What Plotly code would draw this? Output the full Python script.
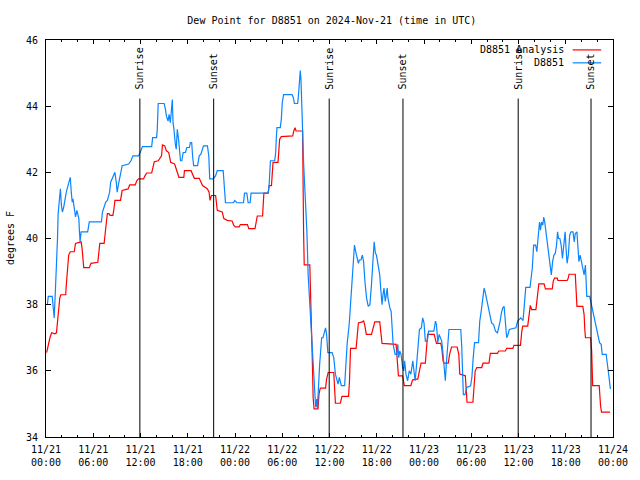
import pandas as pd
import plotly.graph_objects as go

# ---- data (hours after 2024-11-21 00:00 UTC, dew point in degrees F) ----
start = pd.Timestamp("2024-11-21 00:00")

obs_hours = [0.17, 0.29, 0.79, 0.92, 1.04, 1.17, 1.33, 1.46, 1.54, 1.67, 1.83, 1.96, 2.08, 2.25, 2.42, 2.58,
             2.79, 2.92, 3.08, 3.21, 3.33, 3.42, 3.58, 3.75, 3.92, 4.08, 4.17, 4.25, 4.33, 4.46, 5.29, 5.5,
             7.04, 7.17, 7.58, 7.79, 8.08, 8.21, 8.42, 8.63, 8.75, 8.92, 9.04, 9.25, 9.46, 9.67, 10.5, 10.79,
             11.04, 11.75, 11.96, 12.25, 13.42, 13.54, 14.04, 14.13, 14.25, 15.0, 15.17, 15.29, 15.5, 15.63,
             15.79, 15.92, 16.04, 16.13, 16.25, 16.42, 16.54, 16.67, 16.83, 17.08, 17.25, 17.42, 17.71, 17.88,
             18.21, 18.33, 18.5, 18.63, 18.75, 19.25, 19.46, 19.67, 19.88, 20.0, 20.5, 20.67, 20.79, 21.25,
             21.54, 21.75, 22.5, 22.67, 22.79, 23.83, 23.96, 24.25, 25.08, 25.21, 25.5, 25.67, 25.92, 26.04,
             28.21, 28.33, 28.5, 29.04, 29.17, 29.25, 29.33, 29.75, 29.88, 30.0, 30.17, 31.25, 31.42, 31.54,
             31.96, 32.08, 32.17, 32.29, 32.38, 32.5, 32.58, 32.71, 32.83, 33.0, 33.13, 33.29, 33.42, 33.63,
             33.75, 33.92, 34.04, 34.17, 34.25, 34.38, 34.46, 34.58, 34.75, 34.88, 35.0, 35.17, 35.29, 35.42,
             35.5, 35.63, 35.79, 36.33, 36.54, 36.75, 36.96, 37.08, 37.25, 37.38, 37.5, 37.92, 38.08, 38.25,
             38.5, 38.67, 38.83, 39.0, 39.17, 39.33, 39.5, 39.67, 39.79, 40.0, 40.17, 40.33, 40.5, 40.71,
             40.92, 41.13, 41.33, 41.5, 41.67, 41.83, 41.96, 42.17, 42.38, 42.5, 42.67, 42.79, 42.92, 43.08,
             43.21, 43.33, 43.42, 43.54, 43.67, 43.83, 43.96, 44.08, 44.33, 44.54, 44.67, 44.79, 44.92, 45.08,
             45.29, 45.42, 45.54, 45.71, 45.92, 46.13, 46.33, 46.58, 46.75, 46.88, 47.08, 47.25, 47.42, 47.67,
             47.83, 48.0, 48.17, 48.42, 48.58, 49.25, 49.46, 49.58, 49.75, 49.92, 50.08, 50.25, 50.42, 50.58,
             50.71, 50.83, 51.0, 51.17, 52.67, 52.79, 52.92, 53.0, 53.21, 53.42, 53.92, 54.08, 54.25, 54.42,
             54.92, 55.08, 55.29, 55.5, 55.63, 55.75, 55.92, 56.13, 56.33, 56.58, 56.83, 57.08, 57.33, 57.5,
             57.67, 57.83, 58.0, 58.17, 58.33, 58.5, 58.67, 58.83, 59.67, 59.88, 60.08, 60.29, 60.58, 60.71,
             60.92, 61.46, 61.58, 61.75, 61.92, 62.17, 62.33, 62.42, 62.5, 62.67, 62.79, 62.92, 63.08, 63.21,
             63.33, 63.5, 63.67, 63.83, 64.0, 64.17, 64.33, 64.5, 64.67, 64.83, 64.96, 65.08, 65.25, 65.42,
             65.58, 65.71, 65.92, 66.04, 66.17, 66.33, 66.5, 66.67, 66.92, 67.08, 67.21, 67.42, 67.5, 67.67,
             67.83, 68.0, 68.17, 68.33, 68.5, 68.67, 69.04, 69.25, 69.46, 69.67, 69.88, 70.08, 70.29, 70.5,
             70.63, 71.13, 71.33, 71.5, 71.67]
obs_values = [38.0, 38.25, 38.25, 37.8, 37.6, 38.3, 39.05, 40.0, 40.75, 41.25, 41.5, 41.0, 40.8, 40.95, 41.2, 41.4,
              41.6, 41.75, 41.85, 41.4, 41.1, 41.2, 40.9, 40.65, 40.85, 40.7, 40.6, 40.2, 39.9, 40.2, 40.2, 40.5,
              40.5, 40.8, 41.1, 41.15, 41.4, 41.7, 41.8, 41.9, 42.0, 41.7, 41.4, 41.7, 42.0, 42.2, 42.25, 42.35,
              42.5, 42.5, 42.6, 42.78, 42.78, 43.05, 43.05, 43.3, 44.08, 44.08, 43.9, 43.7, 43.55, 43.75,
              43.5, 44.0, 44.2, 43.5, 43.3, 42.85, 42.7, 43.3, 43.0, 42.35, 42.35, 42.6, 42.6, 42.75,
              42.75, 42.9, 42.9, 42.45, 42.2, 42.2, 42.5, 42.55, 42.75, 42.8, 42.8, 42.5, 41.8, 41.8,
              41.9, 42.05, 42.05, 41.6, 41.08, 41.08, 41.15, 41.08, 41.08, 41.37, 41.37, 41.08, 41.08, 41.37,
              41.37, 41.6, 42.35, 42.35, 42.6, 43.05, 43.35, 43.35, 43.6, 44.1, 44.35, 44.35, 44.25, 44.08,
              44.08, 44.4, 44.8, 45.08, 44.8, 44.1, 43.3, 42.3, 41.7, 40.9, 40.2, 38.9, 38.3, 37.7,
              37.0, 36.2, 35.6, 35.2, 34.9, 35.15, 34.85, 35.6, 36.2, 36.6, 37.0, 37.0, 37.1, 37.2,
              37.3, 37.1, 36.55, 36.55, 36.4, 35.9, 35.7, 35.6, 35.8, 35.6, 35.55, 35.55, 36.3, 36.85,
              37.4, 38.1, 38.6, 39.3, 39.8, 39.6, 39.4, 39.25, 39.35, 39.35, 39.5, 39.3, 38.7, 38.2,
              37.95, 38.0, 38.6, 39.4, 39.9, 39.55, 39.5, 39.2, 38.9, 38.5, 38.0, 38.3, 38.5, 38.1,
              38.3, 38.5, 38.2, 38.0, 37.9, 37.8, 37.4, 36.8, 36.5, 36.5, 36.8, 36.4, 36.6, 36.5,
              36.1, 36.0, 36.3, 35.9, 35.7, 36.0, 35.9, 36.3, 35.95, 35.7, 36.25, 36.9, 37.25, 37.3,
              37.6, 37.45, 36.9, 36.9, 37.2, 37.2, 37.5, 37.4, 36.85, 37.1, 37.0, 36.9, 36.5, 35.9,
              35.7, 36.2, 36.9, 37.25, 37.25, 36.75, 35.8, 35.28, 35.28, 35.5, 35.55, 35.8, 36.4, 36.85,
              36.85, 37.5, 37.85, 38.2, 38.5, 38.4, 38.2, 38.0, 37.7, 37.45, 37.4, 37.2, 37.15, 37.3,
              37.5, 37.75, 37.9, 37.95, 37.45, 37.0, 37.1, 37.25, 37.3, 37.5, 37.55, 37.6, 37.52, 37.9,
              38.52, 38.52, 38.75, 39.1, 39.8, 39.8, 39.6, 39.8, 40.1, 40.5, 40.25, 40.5, 40.4, 40.65,
              40.5, 40.2, 39.9, 39.6, 39.3, 38.9, 39.3, 39.5, 39.55, 39.8, 40.2, 40.0, 40.0, 39.8,
              39.4, 39.7, 40.2, 39.7, 39.25, 39.5, 40.1, 40.2, 40.2, 39.9, 40.15, 40.2, 39.9, 39.3,
              39.5, 39.3, 39.1, 38.9, 39.2, 38.25, 38.25, 38.0, 37.85, 37.6, 37.3, 37.0, 36.85, 36.8,
              36.5, 36.5, 36.2, 35.8, 35.45]

ana_hours = [0.08, 0.29, 0.5, 0.71, 1.13, 1.33, 1.46, 1.58, 1.75, 1.88, 2.5, 2.58, 2.75, 2.88, 3.08, 3.58,
             3.75, 4.46, 4.58, 4.67, 4.79, 5.5, 5.71, 6.58, 6.71, 6.83, 7.38, 7.5, 7.67, 7.79, 8.0, 8.13,
             8.5, 8.63, 8.75, 9.46, 9.67, 10.42, 10.63, 11.33, 11.54, 11.75, 12.38, 12.58, 12.79, 13.42,
             13.63, 13.75, 14.25, 14.67, 14.79, 15.08, 15.29, 15.58, 15.71, 15.83, 16.33, 16.67, 16.88, 17.5,
             17.58, 18.42, 18.63, 18.83, 19.46, 19.67, 19.88, 20.5, 20.71, 20.83, 21.0, 21.54, 21.75, 22.38,
             22.58, 23.0, 23.63, 23.83, 24.04, 24.54, 24.67, 25.58, 25.75, 26.54, 26.75, 26.83, 27.5, 27.58,
             27.67, 28.21, 28.33, 28.63, 28.75, 28.83, 29.46, 29.67, 29.88, 31.33, 31.46, 31.63, 31.75, 32.58,
             32.71, 32.79, 33.5, 33.63, 33.75, 33.83, 33.92, 34.04, 34.54, 34.67, 34.83, 35.5, 35.63, 35.83,
             36.54, 36.67, 36.75, 37.38, 37.58, 38.42, 38.54, 38.67, 39.38, 39.5, 39.67, 40.17, 40.33, 40.5,
             40.67, 41.33, 41.54, 41.75, 42.38, 42.58, 42.67, 44.46, 44.54, 44.67, 44.75, 45.29, 45.5, 46.33,
             46.54, 46.96, 47.21, 47.42, 47.63, 48.17, 48.33, 48.46, 49.29, 49.42, 49.58, 50.13, 50.25, 50.42,
             50.54, 51.08, 51.25, 51.5, 52.21, 52.42, 52.54, 53.25, 53.46, 54.21, 54.33, 54.5, 54.71, 55.33,
             55.5, 56.25, 56.42, 57.33, 57.5, 58.33, 58.5, 59.29, 59.42, 60.25, 60.42, 60.54, 61.17, 61.33,
             61.5, 61.67, 62.21, 62.33, 62.42, 62.58, 63.25, 63.42, 64.29, 64.42, 64.58, 64.92, 65.0, 66.17,
             66.29, 66.42, 67.21, 67.33, 67.42, 68.17, 68.33, 68.42, 68.5, 69.17, 69.29, 69.42, 70.25, 70.42,
             70.54, 71.63]
ana_values = [36.55, 36.8, 37.0, 37.15, 37.12, 37.15, 37.55, 37.9, 38.2, 38.3, 38.3, 38.6, 39.2, 39.5, 39.6, 39.6,
              39.85, 39.9, 39.7, 39.35, 39.12, 39.12, 39.25, 39.28, 39.7, 39.85, 39.85, 40.2, 40.5, 40.75, 40.75, 40.7,
              40.7, 40.9, 41.15, 41.15, 41.45, 41.5, 41.62, 41.62, 41.75, 41.8, 41.8, 41.9, 41.98, 41.98,
              42.15, 42.32, 42.35, 42.5, 42.83, 42.8, 42.65, 42.6, 42.45, 42.3, 42.25, 42.0, 41.85, 41.85,
              42.05, 42.05, 41.9, 41.82, 41.82, 41.7, 41.6, 41.5, 41.4, 41.15, 41.3, 41.3, 40.85, 40.8,
              40.6, 40.55, 40.53, 40.4, 40.35, 40.35, 40.42, 40.42, 40.3, 40.3, 40.55, 40.68, 40.68, 40.95,
              41.37, 41.37, 41.6, 41.6, 42.1, 42.3, 42.3, 43.0, 43.08, 43.1, 43.25, 43.35, 43.25, 43.25,
              40.2, 39.2, 39.2, 38.15, 37.5, 36.2, 35.2, 34.85, 34.85, 35.3, 35.48, 35.48, 35.75, 35.95,
              35.95, 35.22, 35.02, 35.02, 35.23, 35.23, 35.7, 36.68, 36.68, 37.0, 37.45, 37.48, 37.52, 37.35,
              37.1, 37.1, 37.3, 37.48, 37.48, 37.1, 36.83, 36.8, 36.5, 36.15, 35.85, 35.85, 35.55, 35.55,
              35.72, 35.75, 35.75, 36.0, 36.23, 36.23, 36.8, 37.1, 37.1, 36.95, 36.83, 36.83, 36.7, 36.3,
              36.23, 36.23, 36.5, 36.72, 36.72, 36.5, 35.9, 35.85, 35.05, 35.05, 35.6, 36.0, 36.1, 36.1,
              36.23, 36.23, 36.53, 36.53, 36.6, 36.6, 36.68, 36.68, 36.77, 36.77, 37.2, 37.35, 37.35, 37.75,
              37.98, 37.85, 37.85, 38.1, 38.4, 38.63, 38.63, 38.48, 38.48, 38.72, 38.8, 38.8, 38.73, 38.73,
              38.78, 38.92, 38.92, 38.5, 37.95, 37.95, 37.7, 37.25, 37.0, 37.0, 36.6, 35.55, 35.55, 34.95,
              34.75, 34.75]

sun_hours = [11.92, 21.29, 35.96, 45.33, 59.96, 69.21]
sun_labels = ["Sunrise", "Sunset", "Sunrise", "Sunset", "Sunrise", "Sunset"]

y_ticks = [34, 36, 38, 40, 42, 44, 46]
label_step_hours = 6
minor_step_hours = 2
total_hours = 72

series_names = ["D8851 Analysis", "D8851"]
series_colors = ["#ff0000", "#0a84ff"]

FONT = "DejaVu Sans Mono, Liberation Mono, monospace"

def to_time(hours):
    return [start + pd.Timedelta(hours=h) for h in hours]

fig = go.Figure()
fig.add_trace(go.Scatter(x=to_time(ana_hours), y=ana_values, mode="lines", hoverinfo="skip",
                         line=dict(color=series_colors[0], width=1.2), name=series_names[0]))
fig.add_trace(go.Scatter(x=to_time(obs_hours), y=obs_values, mode="lines", hoverinfo="skip",
                         line=dict(color=series_colors[1], width=1.2), name=series_names[1]))

major_vals = to_time(list(range(0, total_hours + 1, label_step_hours)))
major_text = [t.strftime("%m/%d") + "<br>" + t.strftime("%H:%M") for t in major_vals]
minor_vals = to_time(list(range(0, total_hours + 1, minor_step_hours)))

# sunrise / sunset markers
shapes = []
annotations = []
for h, lab in zip(sun_hours, sun_labels):
    t = start + pd.Timedelta(hours=h)
    shapes.append(dict(type="line", xref="x", yref="paper", x0=t, x1=t, y0=0, y1=0.8525,
                       line=dict(color="black", width=1)))
    annotations.append(dict(x=t, y=0.87, xref="x", yref="paper", text=lab, textangle=-90,
                            showarrow=False, xanchor="center", yanchor="bottom",
                            font=dict(family=FONT, size=10, color="black")))

# legend (text right-aligned, line sample to the right)
legend_rows_y = [0.975, 0.9425]
for name, col, yy in zip(series_names, series_colors, legend_rows_y):
    annotations.append(dict(x=0.9167, y=yy, xref="paper", yref="paper", text=name, showarrow=False,
                            xanchor="right", yanchor="middle",
                            font=dict(family=FONT, size=10, color="black")))
    shapes.append(dict(type="line", xref="paper", yref="paper", x0=0.9288, x1=0.9792, y0=yy, y1=yy,
                       line=dict(color=col, width=1.2)))

# y-axis title
annotations.append(dict(x=-0.0625, y=0.5, xref="paper", yref="paper", text="degrees F", textangle=-90,
                        showarrow=False, xanchor="center", yanchor="middle",
                        font=dict(family=FONT, size=10, color="black")))

fig.update_layout(
    width=640, height=480,
    paper_bgcolor="white", plot_bgcolor="white",
    margin=dict(l=46, r=18, t=40, b=40),
    showlegend=False, hovermode=False,
    font=dict(family=FONT, size=10, color="black"),
    title=dict(text="Dew Point for D8851 on 2024-Nov-21 (time in UTC)", x=0.5185, xref="container",
               xanchor="center", y=1 - 20 / 480, yref="container", yanchor="middle",
               font=dict(family=FONT, size=10, color="black")),
    shapes=shapes,
    annotations=annotations,
)
fig.update_xaxes(
    type="date", range=[start, start + pd.Timedelta(hours=total_hours)],
    tickmode="array", tickvals=major_vals, ticktext=major_text,
    ticks="inside", ticklen=4, tickcolor="black", tickwidth=1,
    minor=dict(tickmode="array", tickvals=minor_vals, ticks="inside", ticklen=2,
               tickcolor="black", tickwidth=1, showgrid=False),
    showline=True, linecolor="black", linewidth=1, mirror="ticks",
    showgrid=False, zeroline=False, ticklabelstandoff=3,
    tickfont=dict(family=FONT, size=10, color="black"),
)
fig.update_yaxes(
    range=[34, 46], tickmode="array", tickvals=y_ticks,
    ticks="inside", ticklen=5, tickcolor="black", tickwidth=1,
    showline=True, linecolor="black", linewidth=1, mirror="ticks",
    showgrid=False, zeroline=False, ticklabelstandoff=5,
    tickfont=dict(family=FONT, size=10, color="black"),
)

fig.write_html("out.html", config={"displayModeBar": False, "staticPlot": True},
               post_script="document.body.style.margin='0';document.body.style.overflow='hidden';")
